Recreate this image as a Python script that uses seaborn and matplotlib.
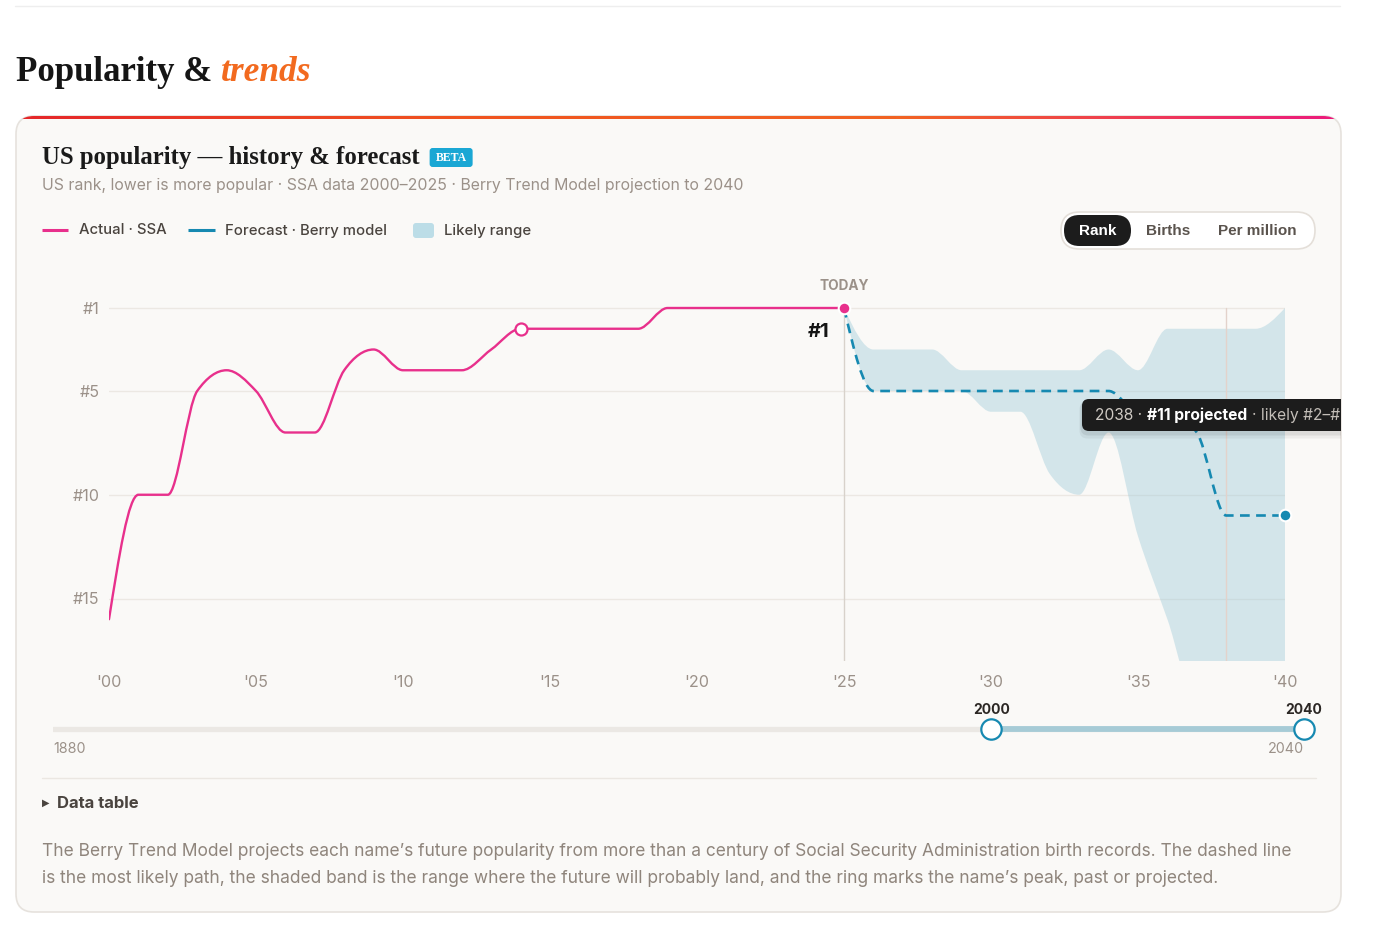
import numpy as np
import pandas as pd
import matplotlib
matplotlib.use("Agg")
from matplotlib import pyplot as plt
from matplotlib.path import Path
from matplotlib.patches import PathPatch, FancyBboxPatch
from matplotlib.colors import LinearSegmentedColormap
import seaborn as sb

# ---- values ----
actual_years = list(range(2000, 2026))
actual_rank = [16, 10, 10, 5, 4, 5, 7, 7, 4, 3, 4, 4, 4, 3, 2, 2, 2, 2, 2, 1, 1, 1, 1, 1, 1, 1]

forecast_years = list(range(2025, 2041))
forecast_rank = [1, 5, 5, 5, 5, 5, 5, 5, 5, 5, 6, 6, 7, 11, 11, 11]
range_best = [1, 3, 3, 3, 4, 4, 4, 4, 4, 3, 4, 2, 2, 2, 2, 1]
range_worst = [1, 5, 5, 5, 5, 6, 6, 9, 10, 7, 12, 16, 20, 20, 20, 20]

rank_ticks = [1, 5, 10, 15]
year_ticks = [2000, 2005, 2010, 2015, 2020, 2025, 2030, 2035, 2040]
year_labels = ["'00", "'05", "'10", "'15", "'20", "'25", "'30", "'35", "'40"]

today_year = 2025
peak_year, peak_rank = 2014, 2
hover_year = 2038
slider_span = [1880, 2040]
slider_window = [2000, 2040]
toggle_labels = ["Rank", "Births", "Per million"]

W, H = 1378, 940
PINK = "#e8308c"
TEAL = "#1689b1"
GRAY = "#9b9189"
DARK = "#4a443f"
GRID = "#ece8e3"
SANS = ["Inter", "DejaVu Sans"]
SERIF = ["Liberation Serif", "DejaVu Serif"]


def monotone(xs, ys):
    # cubic bezier segments, same shape as d3.curveMonotoneX
    xs = np.asarray(xs, float)
    ys = np.asarray(ys, float)
    h = np.diff(xs)
    s = np.diff(ys) / h
    n = len(xs)
    t = np.zeros(n)
    for i in range(1, n - 1):
        p = (s[i - 1] * h[i] + s[i] * h[i - 1]) / (h[i - 1] + h[i])
        t[i] = (np.sign(s[i - 1]) + np.sign(s[i])) * min(abs(s[i - 1]), abs(s[i]), 0.5 * abs(p))
    t[0] = (3 * s[0] - t[1]) / 2
    t[-1] = (3 * s[-1] - t[-2]) / 2
    segs = []
    for i in range(n - 1):
        d = h[i] / 3
        segs.append([(xs[i], ys[i]), (xs[i] + d, ys[i] + d * t[i]),
                     (xs[i + 1] - d, ys[i + 1] - d * t[i + 1]), (xs[i + 1], ys[i + 1])])
    return segs


def curve(xs, ys):
    segs = monotone(xs, ys)
    verts = [segs[0][0]] + [p for sg in segs for p in sg[1:]]
    codes = [Path.MOVETO] + [Path.CURVE4] * (3 * len(segs))
    return Path(verts, codes)


def band(xs, lo, hi):
    top = monotone(xs, lo)
    bot = monotone(xs, hi)
    verts = [top[0][0]] + [p for sg in top for p in sg[1:]]
    codes = [Path.MOVETO] + [Path.CURVE4] * (3 * len(top))
    verts.append(bot[-1][3])
    codes.append(Path.LINETO)
    for sg in reversed(bot):
        verts += [sg[2], sg[1], sg[0]]
        codes += [Path.CURVE4] * 3
    verts.append(verts[0])
    codes.append(Path.CLOSEPOLY)
    return Path(verts, codes)


sb.set_theme(style="white")
plt.rcParams["font.family"] = SANS
plt.rcParams["lines.scale_dashes"] = False

fig = plt.figure(figsize=(W / 100, H / 100), dpi=100, facecolor="white")
rend = fig.canvas.get_renderer()


def end_x(t):
    return t.get_window_extent(renderer=rend).x1


# ---- page / card background in pixel coordinates ----
bg = fig.add_axes([0, 0, 1, 1])
bg.set_xlim(0, W)
bg.set_ylim(H, 0)
bg.axis("off")
bg.set_zorder(0)

bg.plot([15, 1340], [5.5, 5.5], color="#eeeeee", lw=1)

card = FancyBboxPatch((16, 116), 1325, 796, boxstyle="round,pad=0,rounding_size=18",
                      fc="#faf9f7", ec="#e6e2dd", lw=1.2, zorder=1)
bg.add_patch(card)
stripe = LinearSegmentedColormap.from_list("stripe", ["#e5262a", "#f0531f", "#f26322", "#ec1a7e"])
im = bg.imshow(np.linspace(0, 1, 256)[None, :], extent=[16, 1341, 119.5, 115.5],
               aspect="auto", cmap=stripe, zorder=2)
im.set_clip_path(card)

t = bg.text(16, 81, "Popularity &", family=SERIF, fontsize=25, fontweight="bold", color="#151515")
bg.text(end_x(t) + 9, 81, "trends", family=SERIF, fontsize=25.5, fontweight="bold",
        style="italic", color="#f26a1f")

t = bg.text(42, 164, "US popularity \u2014 history & forecast", family=SERIF, fontsize=17.8,
            fontweight="bold", color="#1a1a1a")
bx = end_x(t) + 10
bg.add_patch(FancyBboxPatch((bx, 148), 43, 19, boxstyle="round,pad=0,rounding_size=3",
                            fc="#1aa7d4", ec="none", zorder=3))
bg.text(bx + 21.5, 158, "BETA", family=SERIF, fontsize=8.5, fontweight="bold", color="white",
        ha="center", va="center", zorder=4)

bg.text(42, 190, "US rank, lower is more popular \u00b7 SSA data 2000\u20132025 \u00b7 "
        "Berry Trend Model projection to 2040", fontsize=11.4, color=GRAY)

# legend
bg.plot([42, 68], [230, 230], color=PINK, lw=2.2, solid_capstyle="butt", zorder=3)
bg.text(79, 230.5, "Actual \u00b7 SSA", fontsize=10.7, color=DARK, va="center", fontweight="medium")
bg.plot([188, 215], [230, 230], color=TEAL, lw=2.2, solid_capstyle="butt", zorder=3)
bg.text(225, 230.5, "Forecast \u00b7 Berry model", fontsize=10.7, color=DARK, va="center",
        fontweight="medium")
bg.add_patch(FancyBboxPatch((413, 223), 21, 15, boxstyle="round,pad=0,rounding_size=3",
                            fc="#bcdde7", ec="none", zorder=3))
bg.text(444, 230.5, "Likely range", fontsize=10.7, color=DARK, va="center", fontweight="medium")

# Rank / Births / Per million toggle
bg.add_patch(FancyBboxPatch((1061, 212), 254, 37, boxstyle="round,pad=0,rounding_size=18.5",
                            fc="white", ec="#e4dfd9", lw=1.2, zorder=3))
bg.add_patch(FancyBboxPatch((1064, 215), 67, 31, boxstyle="round,pad=0,rounding_size=15.5",
                            fc="#1c1c1c", ec="none", zorder=4))
for lab, cx in zip(toggle_labels, [1097.5, 1168, 1257]):
    bg.text(cx, 231, lab, family=["Liberation Sans", "DejaVu Sans"], fontsize=11, fontweight="bold",
            color="white" if lab == "Rank" else "#5a534d", ha="center", va="center", zorder=5)

bg.plot([42, 1316], [777.5, 777.5], color="#ebe7e2", lw=1, zorder=3)
bg.text(42, 803, "\u25b6", family=["DejaVu Sans"], fontsize=7, color=DARK, va="center")
bg.text(57, 803, "Data table", fontsize=12, fontweight="bold", color=DARK, va="center")

foot = ["The Berry Trend Model projects each name\u2019s future popularity from more than a century "
        "of Social Security Administration birth records. The dashed line",
        "is the most likely path, the shaded band is the range where the future will probably land, "
        "and the ring marks the name\u2019s peak, past or projected."]
for i, line in enumerate(foot):
    bg.text(42, 856 + 27 * i, line, fontsize=12.5, color="#8f857c")

# ---- main rank chart ----
ax = fig.add_axes([109 / W, 1 - 660.75 / H, 1176 / W, 373.5 / H])
ax.set_zorder(2)
ax.patch.set_visible(False)
for sp in ax.spines.values():
    sp.set_visible(False)
ax.set_xlim(2000, 2040)
ax.set_ylim(18, 0)
ax.set_yticks(rank_ticks, [f"#{r}" for r in rank_ticks])
ax.set_xticks(year_ticks, year_labels)
ax.tick_params(length=0, labelsize=11.6, labelcolor=GRAY)
ax.tick_params(axis="y", pad=7)
ax.tick_params(axis="x", pad=10)
ax.grid(axis="y", color=GRID, lw=1)
ax.grid(axis="x", visible=False)
ax.set_axisbelow(True)

ax.add_patch(PathPatch(band(forecast_years, range_best, range_worst), fc="#9ecbd9", alpha=0.42,
                       ec="none", zorder=1))
ax.plot([today_year, today_year], [1, 18], color="#d8d2cb", lw=1, zorder=2)
ax.plot([hover_year, hover_year], [1, 18], color="#e3d2cb", lw=1, zorder=2)

ax.add_patch(PathPatch(curve(actual_years, actual_rank), fill=False, ec=PINK, lw=1.7,
                       capstyle="round", zorder=4))
ax.add_patch(PathPatch(curve(forecast_years, forecast_rank), fill=False, ec=TEAL, lw=1.9,
                       ls=(0, (7, 4.6)), zorder=4))

sb.scatterplot(x=[peak_year], y=[peak_rank], ax=ax, s=75, color="white", edgecolor=PINK,
               linewidth=1.6, zorder=6, clip_on=False)
sb.scatterplot(x=[today_year], y=[actual_rank[-1]], ax=ax, s=70, color=PINK, edgecolor="white",
               linewidth=1.5, zorder=6, clip_on=False)
sb.scatterplot(x=[forecast_years[-1]], y=[forecast_rank[-1]], ax=ax, s=70, color=TEAL,
               edgecolor="white", linewidth=1.5, zorder=6, clip_on=False)

ax.annotate("TODAY", (today_year, actual_rank[-1]), xytext=(0, 15.5), textcoords="offset points",
            ha="center", va="center", fontsize=9.8, fontweight="bold", color=GRAY)
ax.annotate(f"#{actual_rank[-1]}", (today_year, actual_rank[-1]), xytext=(-18.5, -17.3),
            textcoords="offset points", ha="center", va="center", fontsize=14.5,
            fontweight="bold", color="#151515")

# ---- year-window slider ----
sl = fig.add_axes([53 / W, 1 - 744 / H, 1251 / W, 30 / H])
sl.set_zorder(2)
sl.patch.set_visible(False)
sl.axis("off")
sl.set_xlim(*slider_span)
sl.set_ylim(-1, 1)
sl.plot(slider_span, [0, 0], color="#ebe8e4", lw=3.8, solid_capstyle="round", zorder=1)
sl.plot(slider_window, [0, 0], color="#a6cbd6", lw=4.2, solid_capstyle="butt", zorder=2)
sb.scatterplot(x=slider_window, y=[0, 0], ax=sl, s=215, color="white", edgecolor=TEAL,
               linewidth=1.6, zorder=3, clip_on=False)
for v in slider_window:
    sl.annotate(str(v), (v, 0), xytext=(0, 14), textcoords="offset points", ha="center",
                va="center", fontsize=10, fontweight="bold", color="#2b2724")
sl.annotate(str(slider_span[0]), (slider_span[0], 0), xytext=(0, -14.5), textcoords="offset points",
            ha="left", va="center", fontsize=10.3, color=GRAY)
sl.annotate(str(slider_span[1]), (slider_span[1], 0), xytext=(0, -14.5), textcoords="offset points",
            ha="right", va="center", fontsize=10.3, color=GRAY)

# ---- hover tooltip, cut off by the card edge ----
top = fig.add_axes([16 / W, 1 - 912 / H, 1325 / W, 796 / H])
top.set_zorder(10)
top.patch.set_visible(False)
top.axis("off")
top.set_xlim(16, 1341)
top.set_ylim(912, 116)
for off, a in [(5, 0.05), (3, 0.07)]:
    top.add_patch(FancyBboxPatch((1082 - off / 2, 399 + off / 2), 320, 32 + off,
                                 boxstyle="round,pad=0,rounding_size=8", fc="black", alpha=a, ec="none"))
top.add_patch(FancyBboxPatch((1082, 399), 320, 32, boxstyle="round,pad=0,rounding_size=7",
                             fc="#1c1c1c", ec="none"))
t = top.text(1095, 420.5, f"{hover_year} \u00b7", fontsize=11.2, color="#cfcac4", clip_on=True)
t = top.text(end_x(t) + 5, 420.5, f"#{forecast_rank[hover_year - 2025]} projected", fontsize=11.2,
             fontweight="bold", color="white", clip_on=True)
top.text(end_x(t) + 5, 420.5, f"\u00b7 likely #{range_best[hover_year - 2025]}\u2013"
         f"#{range_worst[hover_year - 2025]}", fontsize=11.2, color="#c3beb8", clip_on=True)

fig.savefig("out.png", dpi=100, facecolor="white")
